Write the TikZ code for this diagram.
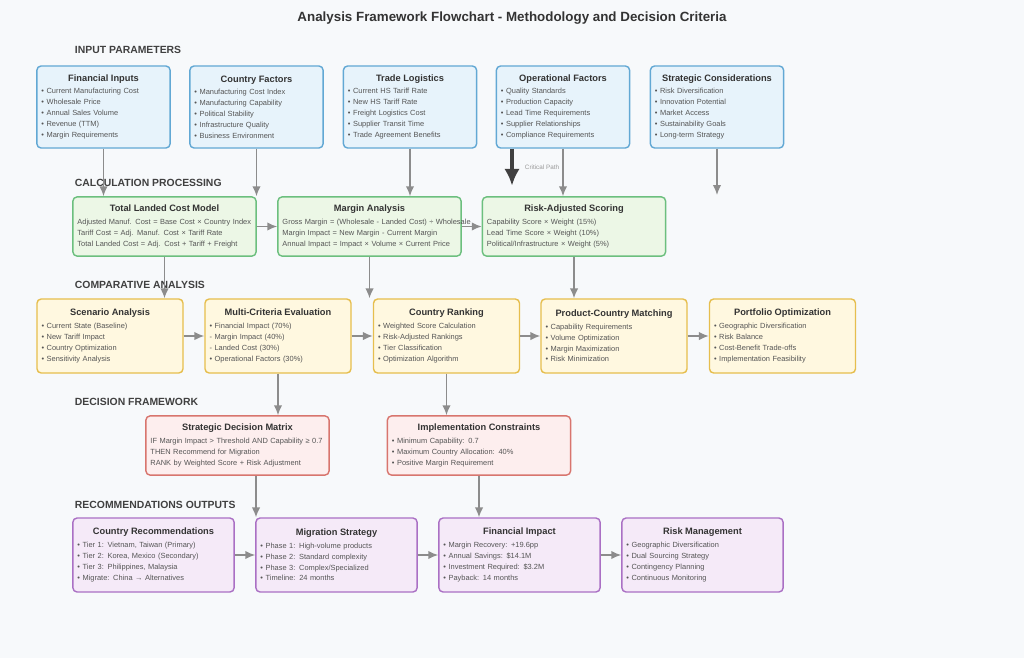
\documentclass[tikz,border=0pt]{standalone}
\usepackage{fontspec}
\setmainfont{Liberation Sans}
\usetikzlibrary{calc}
\usetikzlibrary{arrows.meta}

\definecolor{bgcol}{HTML}{F7F9FB}
\definecolor{inFill}{HTML}{E7F3FB}
\definecolor{inLine}{HTML}{62A8D4}
\definecolor{calcFill}{HTML}{ECF7E6}
\definecolor{calcLine}{HTML}{6CBF7E}
\definecolor{cmpFill}{HTML}{FFF8E0}
\definecolor{cmpLine}{HTML}{E6BE4E}
\definecolor{decFill}{HTML}{FDEEEE}
\definecolor{decLine}{HTML}{D8756E}
\definecolor{outFill}{HTML}{F5EAF8}
\definecolor{outLine}{HTML}{AA70C4}
\definecolor{txt}{HTML}{555555}
\definecolor{arrcol}{HTML}{8C8C8C}

\newcommand\boxtitle[1]{\makebox[\linewidth]{\fontsize{6.6}{8}\selectfont\bfseries\color{black!80}#1}\\[1pt]}

\begin{document}
\begin{tikzpicture}[x=0.025cm, y=-0.025cm,
  box/.style = {rounded corners=3pt, line width=1pt, align=left,
    inner sep=3pt, text=txt, font=\fontsize{5.3}{7.8}\selectfont},
  inbox/.style = {box, fill=inFill, draw=inLine,
    text width=3.1cm, minimum width=3.33cm, minimum height=2.05cm},
  calcbox/.style = {box, fill=calcFill, draw=calcLine,
    text width=4.35cm, minimum width=4.58cm, minimum height=1.48cm},
  cmpbox/.style = {box, fill=cmpFill, draw=cmpLine,
    text width=3.42cm, minimum width=3.65cm, minimum height=1.85cm},
  decbox/.style = {box, fill=decFill, draw=decLine,
    text width=4.35cm, minimum width=4.58cm, minimum height=1.48cm},
  outbox/.style = {box, fill=outFill, draw=outLine,
    text width=3.8cm, minimum width=4.03cm, minimum height=1.85cm},
  section/.style = {anchor=west, font=\fontsize{7.4}{9}\selectfont\bfseries, text=black!75},
  arr/.style = {-{Latex[length=7pt,width=6pt]}, draw=arrcol, line width=1.1pt}]

  \fill[bgcol] (0,0) rectangle (1024,658);

  \node[font=\fontsize{9.5}{11}\selectfont\bfseries, text=black!80] (title) at (512,18)
    {Analysis Framework Flowchart - Methodology and Decision Criteria};

  % input parameters
  \node[section] (secIn) at (70,50) {INPUT PARAMETERS};
  \node[inbox] (fin) at (103.5,107) {\boxtitle{Financial Inputs}
    • Current Manufacturing Cost\\ • Wholesale Price\\ • Annual Sales Volume\\
    • Revenue (TTM)\\ • Margin Requirements};
  \node[inbox] (ctry) at (256.5,107) {\boxtitle{Country Factors}
    • Manufacturing Cost Index\\ • Manufacturing Capability\\ • Political Stability\\
    • Infrastructure Quality\\ • Business Environment};
  \node[inbox] (trade) at (410,107) {\boxtitle{Trade Logistics}
    • Current HS Tariff Rate\\ • New HS Tariff Rate\\ • Freight Logistics Cost\\
    • Supplier Transit Time\\ • Trade Agreement Benefits};
  \node[inbox] (oper) at (563,107) {\boxtitle{Operational Factors}
    • Quality Standards\\ • Production Capacity\\ • Lead Time Requirements\\
    • Supplier Relationships\\ • Compliance Requirements};
  \node[inbox] (strat) at (717,107) {\boxtitle{Strategic Considerations}
    • Risk Diversification\\ • Innovation Potential\\ • Market Access\\
    • Sustainability Goals\\ • Long-term Strategy};

  % calculation processing
  \node[section] (secCalc) at (70,183) {CALCULATION PROCESSING};
  \node[calcbox] (landed) at (164.5,226.5) {\boxtitle{Total Landed Cost Model}
    Adjusted Manuf. Cost = Base Cost × Country Index\\
    Tariff Cost = Adj. Manuf. Cost × Tariff Rate\\
    Total Landed Cost = Adj. Cost + Tariff + Freight};
  \node[calcbox] (margin) at (369.5,226.5) {\boxtitle{Margin Analysis}
    \makebox[\linewidth][l]{Gross Margin = (Wholesale - Landed Cost) ÷ Wholesale}\\
    Margin Impact = New Margin - Current Margin\\
    Annual Impact = Impact × Volume × Current Price};
  \node[calcbox] (risk) at (574,226.5) {\boxtitle{Risk-Adjusted Scoring}
    Capability Score × Weight (15\%)\\
    Lead Time Score × Weight (10\%)\\
    Political/Infrastructure × Weight (5\%)};

  % comparative analysis
  \node[section] (secCmp) at (70,285) {COMPARATIVE ANALYSIS};
  \node[cmpbox] (scen) at (110,336) {\boxtitle{Scenario Analysis}
    • Current State (Baseline)\\ • New Tariff Impact\\ • Country Optimization\\ • Sensitivity Analysis};
  \node[cmpbox] (multi) at (278,336) {\boxtitle{Multi-Criteria Evaluation}
    • Financial Impact (70\%)\\ - Margin Impact (40\%)\\ - Landed Cost (30\%)\\ • Operational Factors (30\%)};
  \node[cmpbox] (rank) at (446.5,336) {\boxtitle{Country Ranking}
    • Weighted Score Calculation\\ • Risk-Adjusted Rankings\\ • Tier Classification\\ • Optimization Algorithm};
  \node[cmpbox] (match) at (614,336) {\boxtitle{Product-Country Matching}
    • Capability Requirements\\ • Volume Optimization\\ • Margin Maximization\\ • Risk Minimization};
  \node[cmpbox] (port) at (782.5,336) {\boxtitle{Portfolio Optimization}
    • Geographic Diversification\\ • Risk Balance\\ • Cost-Benefit Trade-offs\\ • Implementation Feasibility};

  % decision framework
  \node[section] (secDec) at (70,402) {DECISION FRAMEWORK};
  \node[decbox] (matrix) at (237.5,445.5) {\boxtitle{Strategic Decision Matrix}
    IF Margin Impact > Threshold AND Capability ≥ 0.7\\
    THEN Recommend for Migration\\
    RANK by Weighted Score + Risk Adjustment};
  \node[decbox] (constr) at (479,445.5) {\boxtitle{Implementation Constraints}
    • Minimum Capability: 0.7\\ • Maximum Country Allocation: 40\%\\ • Positive Margin Requirement};

  % recommendations outputs
  \node[section] (secOut) at (70,505) {RECOMMENDATIONS OUTPUTS};
  \node[outbox] (recs) at (153.5,555) {\boxtitle{Country Recommendations}
    • Tier 1: Vietnam, Taiwan (Primary)\\ • Tier 2: Korea, Mexico (Secondary)\\
    • Tier 3: Philippines, Malaysia\\ • Migrate: China → Alternatives};
  \node[outbox] (migr) at (336.5,555) {\boxtitle{Migration Strategy}
    • Phase 1: High-volume products\\ • Phase 2: Standard complexity\\
    • Phase 3: Complex/Specialized\\ • Timeline: 24 months};
  \node[outbox] (finimp) at (519.5,555) {\boxtitle{Financial Impact}
    • Margin Recovery: +19.6pp\\ • Annual Savings: \$14.1M\\
    • Investment Required: \$3.2M\\ • Payback: 14 months};
  \node[outbox] (riskm) at (702.5,555) {\boxtitle{Risk Management}
    • Geographic Diversification\\ • Dual Sourcing Strategy\\
    • Contingency Planning\\ • Continuous Monitoring};

  % connectors
  \draw[arr] (fin.south) -- (fin.south |- landed.north);
  \draw[arr] (ctry.south) -- (ctry.south |- landed.north);
  \draw[arr] (trade.south) -- (trade.south |- margin.north);
  \draw[arr] (oper.south) -- (oper.south |- risk.north);
  \coordinate (stratEnd) at (717,195);
  \draw[arr] (strat.south) -- (stratEnd);
  \coordinate (critTop) at ($(oper.south)+(-51,0)$);
  \draw[-{Latex[length=12pt,width=11pt]}, draw=black!75, line width=2.8pt]
    (critTop) -- ++(0,37) coordinate (critEnd);
  \node[font=\fontsize{4.5}{5}\selectfont, text=black!40, anchor=west] (critLbl)
    at ($(critTop)!0.5!(critEnd)+(8,0)$) {Critical Path};

  \draw[arr] (landed) -- (margin);
  \draw[arr] (margin) -- (risk);
  \draw[arr] (landed.south) -- (landed.south |- scen.north);
  \draw[arr] (margin.south) -- (margin.south |- rank.north);
  \draw[arr] (risk.south) -- (risk.south |- match.north);

  \draw[arr] (scen) -- (multi);
  \draw[arr] (multi) -- (rank);
  \draw[arr] (rank) -- (match);
  \draw[arr] (match) -- (port);
  \draw[arr] (multi.south) -- (multi.south |- matrix.north);
  \draw[arr] (rank.south) -- (rank.south |- constr.north);

  \coordinate (matrixOut) at ($(matrix.south)+(18.5,0)$);
  \draw[arr] (matrixOut) -- (matrixOut |- migr.north);
  \draw[arr] (constr.south) -- (constr.south |- finimp.north);
  \draw[arr] (recs) -- (migr);
  \draw[arr] (migr) -- (finimp);
  \draw[arr] (finimp) -- (riskm);
\end{tikzpicture}
\end{document}
